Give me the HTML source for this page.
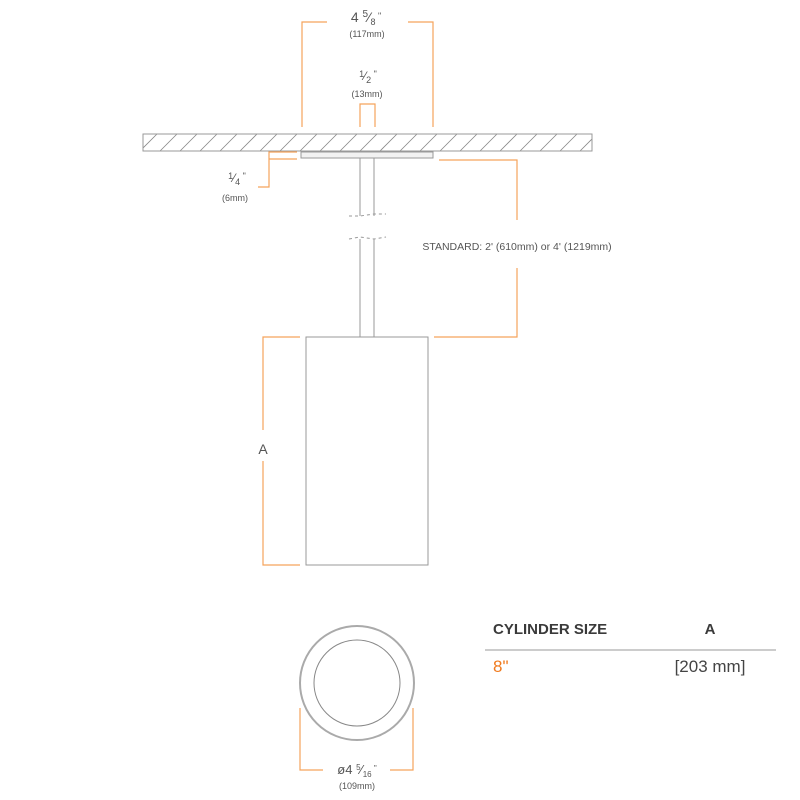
<!DOCTYPE html>
<html><head><meta charset="utf-8"><style>
html,body{margin:0;padding:0;background:#fff;}
svg{display:block;font-family:"Liberation Sans",sans-serif;}
</style></head><body>
<svg width="800" height="800" viewBox="0 0 800 800" xmlns="http://www.w3.org/2000/svg">
<defs>
<clipPath id="c"><rect x="143" y="134" width="449" height="17"/></clipPath>
</defs>
<g clip-path="url(#c)" stroke="#888" stroke-width="0.8">
<line x1="140" y1="151" x2="157" y2="134"/><line x1="160" y1="151" x2="177" y2="134"/><line x1="180" y1="151" x2="197" y2="134"/><line x1="200" y1="151" x2="217" y2="134"/><line x1="220" y1="151" x2="237" y2="134"/><line x1="240" y1="151" x2="257" y2="134"/><line x1="260" y1="151" x2="277" y2="134"/><line x1="280" y1="151" x2="297" y2="134"/><line x1="300" y1="151" x2="317" y2="134"/><line x1="320" y1="151" x2="337" y2="134"/><line x1="340" y1="151" x2="357" y2="134"/><line x1="360" y1="151" x2="377" y2="134"/><line x1="380" y1="151" x2="397" y2="134"/><line x1="400" y1="151" x2="417" y2="134"/><line x1="420" y1="151" x2="437" y2="134"/><line x1="440" y1="151" x2="457" y2="134"/><line x1="460" y1="151" x2="477" y2="134"/><line x1="480" y1="151" x2="497" y2="134"/><line x1="500" y1="151" x2="517" y2="134"/><line x1="520" y1="151" x2="537" y2="134"/><line x1="540" y1="151" x2="557" y2="134"/><line x1="560" y1="151" x2="577" y2="134"/><line x1="580" y1="151" x2="597" y2="134"/>
</g>
<rect x="143" y="134" width="449" height="17" fill="none" stroke="#999" stroke-width="1"/>
<rect x="301" y="152" width="132" height="6" fill="#f2f2f2" stroke="#999" stroke-width="1"/>
<g stroke="#999" stroke-width="1" fill="none">
<line x1="360" y1="158" x2="360" y2="216"/><line x1="374" y1="158" x2="374" y2="216"/>
<line x1="360" y1="239" x2="360" y2="337"/><line x1="374" y1="239" x2="374" y2="337"/>
<path d="M349 216 L360 216 L374 214 L386 214" stroke-dasharray="3,3"/>
<path d="M349 239 L360 237 L374 239 L386 237" stroke-dasharray="3,3"/>
<rect x="306" y="337" width="122" height="228"/>
<circle cx="357" cy="683" r="57" stroke="#aaa" stroke-width="2"/>
<circle cx="357" cy="683" r="43" stroke="#888"/>
</g>
<g stroke="#f5a35c" stroke-width="1.2" fill="none">
<path d="M302 127 V22 H327"/><path d="M433 127 V22 H408"/>
<path d="M360 127 V104 H375 V127"/>
<path d="M297 152 H269 V187 H258"/><path d="M297 159 H269"/>
<path d="M439 160 H517 V220"/><path d="M517 268 V337 H434"/>
<path d="M300 337 H263 V430"/><path d="M263 461 V565 H300"/>
<path d="M300 708 V770 H323"/><path d="M413 708 V770 H390"/>
</g>
<g fill="#555" text-anchor="middle">
<text x="366" y="22" font-size="14">4 <tspan font-size="10" dy="-5">5</tspan><tspan dy="5">⁄</tspan><tspan font-size="9" dy="3">8</tspan><tspan font-size="9" dy="-6"> "</tspan></text>
<text x="367" y="37" font-size="9">(117mm)</text>
<text x="368" y="80" font-size="12"><tspan font-size="9" dy="-3">1</tspan><tspan dy="3">⁄</tspan><tspan font-size="9" dy="3">2</tspan><tspan font-size="9" dy="-6"> "</tspan></text>
<text x="367" y="97" font-size="9">(13mm)</text>
<text x="237" y="182" font-size="12"><tspan font-size="9" dy="-3">1</tspan><tspan dy="3">⁄</tspan><tspan font-size="9" dy="3">4</tspan><tspan font-size="9" dy="-6"> "</tspan></text>
<text x="235" y="201" font-size="9">(6mm)</text>
<text x="517" y="250" font-size="10.5">STANDARD: 2' (610mm) or 4' (1219mm)</text>
<text x="263" y="454" font-size="14">A</text>
<text x="357" y="774" font-size="13">ø4 <tspan font-size="8" dy="-4">5</tspan><tspan dy="4">⁄</tspan><tspan font-size="8" dy="3">16</tspan><tspan font-size="8" dy="-6"> "</tspan></text>
<text x="357" y="789" font-size="9">(109mm)</text>
</g>
<text x="493" y="634" font-size="15" font-weight="bold" fill="#3a3a3a">CYLINDER SIZE</text>
<text x="710" y="634" font-size="15" font-weight="bold" fill="#3a3a3a" text-anchor="middle">A</text>
<line x1="485" y1="650" x2="776" y2="650" stroke="#999" stroke-width="1"/>
<text x="493" y="672" font-size="17" fill="#f07a1e">8"</text>
<text x="710" y="672" font-size="17" fill="#444" text-anchor="middle">[203 mm]</text>
</svg>
</body></html>
